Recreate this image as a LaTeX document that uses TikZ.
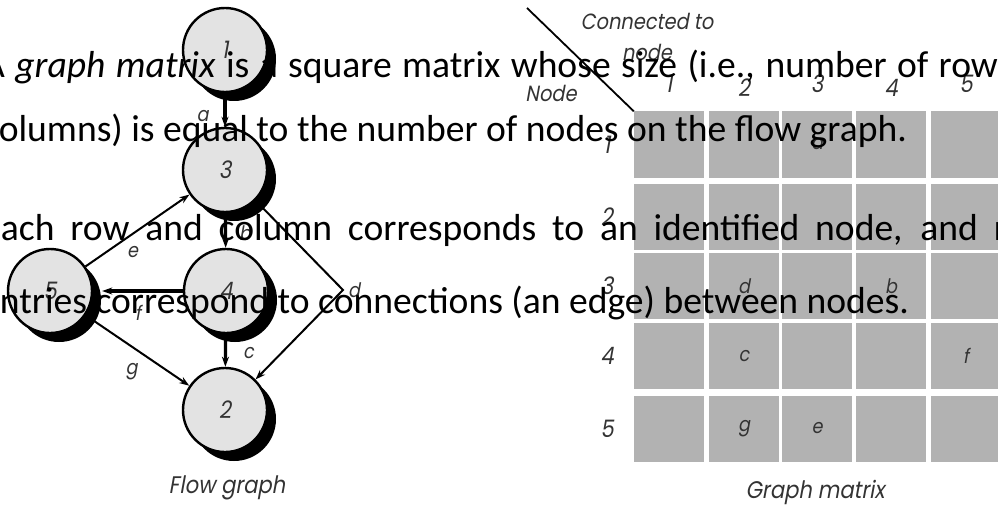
\documentclass[tikz,border=0pt]{standalone}
\usepackage{fontspec}
\setmainfont{Carlito}
\newfontfamily\figfont[FakeSlant=0.18,FakeStretch=0.88]{Poppins}
\usetikzlibrary{arrows.meta}

\begin{document}
\begin{tikzpicture}[x=1pt, y=-1pt,
  every node/.style={inner sep=0pt},
  vertex/.style={circle, draw, line width=2.4pt, fill=black!11, minimum size=84pt,
    font=\figfont\fontsize{24}{24}\selectfont, text=black!80},
  drop/.style={circle, fill=black, minimum size=84pt},
  edge/.style={-{Stealth[length=10pt, width=7pt]}, line width=2pt},
  heavy/.style={edge, line width=3.2pt},
  elabel/.style={font=\figfont\fontsize{20}{20}\selectfont, text=black!80},
  caption/.style={font=\figfont\fontsize{24}{24}\selectfont, text=black!80},
  cell/.style={fill=black!30, minimum width=70pt, minimum height=66pt},
  slide/.style={font=\fontsize{37.6}{45}\selectfont, text=black}]

  % Canvas
  \useasboundingbox (0,0) rectangle (998,508);
  \clip (0,0) rectangle (998,508);
  \fill[white] (0,0) rectangle (998,508);

  % Flow graph nodes with their shadows
  \foreach \n/\x/\y in {1/225/50, 3/225/170, 4/226/291, 5/50/291, 2/225/410} {
    \node[drop] at (\x+9,\y+9) {};
    \node[vertex] (n\n) at (\x,\y) {\n};
  }

  % Flow graph edges
  \draw[heavy] (n1) -- node[elabel, left=15pt, yshift=-6pt] {a} (n3);
  \draw[heavy] (n3) -- node[elabel, right=12pt, yshift=-3pt] {b} (n4);
  \draw[heavy] (n4) -- node[elabel, right=16pt, yshift=-3pt] {c} (n2);
  \coordinate (dbend) at (343,290);
  \draw[edge] (n3.-45) -- (dbend) node[elabel, right=4pt] {d} -- (n2.45);
  \draw[edge] (n5) -- node[elabel, below=15pt, xshift=-5pt] {e} (n3);
  \draw[heavy, shorten >=9pt] (n4) -- node[elabel, below=13pt] {f} (n5);
  \draw[edge] (n5) -- node[elabel, below left=12pt, xshift=13pt] {g} (n2);
  \node[caption] (fgcap) at (227,488) {Flow graph};

  % Graph matrix cells
  \foreach \r/\y in {1/144.5, 2/216.5, 3/286, 4/356, 5/428.5} {
    \foreach \c/\x in {1/669, 2/744, 3/817, 4/891, 5/966} {
      \node[cell] (m\r\c) at (\x,\y) {};
    }
    \node[caption] (row\r) at (607,\y) {\r};
  }
  \foreach \c/\x/\y in {1/669/84, 2/744/88, 3/817/84, 4/891/88, 5/966/84}
    \node[caption] (col\c) at (\x,\y) {\c};

  % Matrix entries
  \foreach \cellname/\entry in {m13/a, m32/d, m34/b, m42/c, m45/f, m52/g, m53/e}
    \node[elabel] at (\cellname) {\entry};

  % Corner heading
  \coordinate (diagtop) at (527,8);
  \draw[line width=1.8pt] (diagtop) -- (m11.north west);
  \node[elabel, align=center, font=\figfont\fontsize{22}{31}\selectfont] (conn) at (647,37) {Connected to\\node};
  \node[elabel, font=\figfont\fontsize{22}{22}\selectfont] (rowhead) at (551,93) {Node};
  \node[caption] (gmcap) at (815,492) {Graph matrix};

  % Slide text laid over the figure
  \node[slide, anchor=base west] (t1) at (-17,78) {\makebox[1097pt][s]{A \textit{graph matrix} is a square matrix whose size (i.e., number of rows and}};
  \node[slide, anchor=base west] (t2) at (-17,142) {columns) is equal to the number of nodes on the flow graph.};
  \node[slide, anchor=base west] (t3) at (-17,240) {\makebox[1109pt][s]{Each row and column corresponds to an identified node, and matrix}};
  \node[slide, anchor=base west] (t4) at (-19,313) {entries correspond to connections (an edge) between nodes.};
\end{tikzpicture}
\end{document}
